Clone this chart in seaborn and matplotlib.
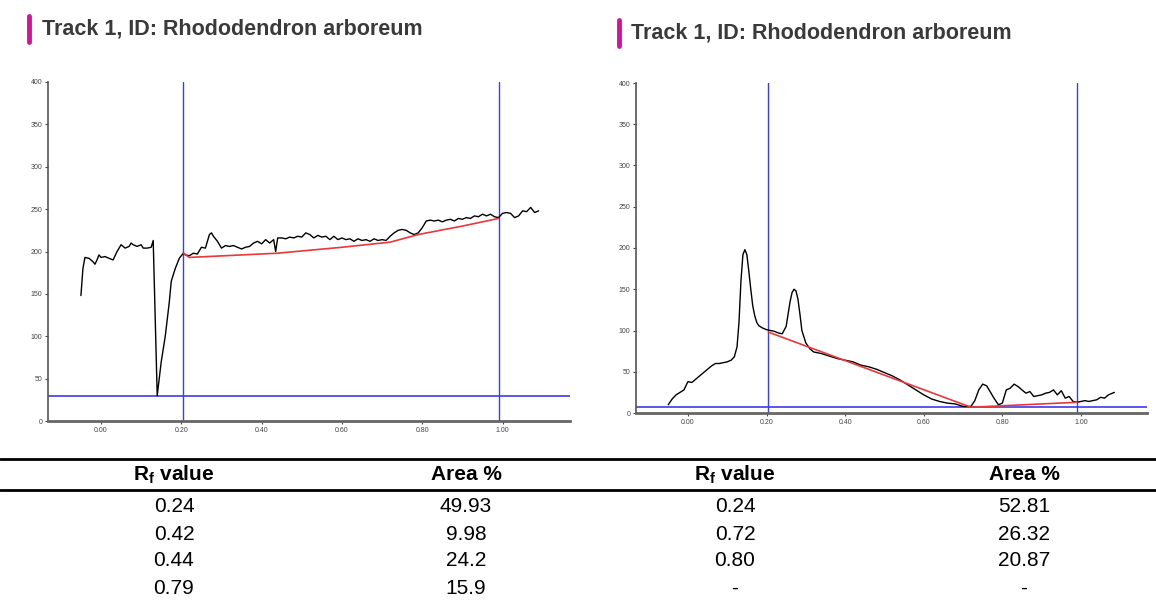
import numpy as np
import pandas as pd
import matplotlib
matplotlib.use("Agg")
import matplotlib.pyplot as plt
import seaborn as sns

# densitogram, left track
rf_left = [-0.05, -0.045, -0.04, -0.03, -0.02, -0.015, -0.01, -0.005, 0.00, 0.01,
           0.02, 0.03, 0.04, 0.05, 0.06, 0.07, 0.075, 0.08, 0.09, 0.10,
           0.105, 0.115, 0.125, 0.13, 0.14, 0.15, 0.16, 0.17, 0.175, 0.185,
           0.195, 0.205, 0.21, 0.22, 0.23, 0.24, 0.25, 0.26, 0.27, 0.275,
           0.28, 0.29, 0.30, 0.31, 0.32, 0.33, 0.34, 0.35, 0.36, 0.37,
           0.38, 0.39, 0.40, 0.41, 0.42, 0.43, 0.435, 0.44, 0.45, 0.46,
           0.47, 0.48, 0.49, 0.50, 0.51, 0.52, 0.53, 0.54, 0.55, 0.56,
           0.57, 0.58, 0.59, 0.60, 0.61, 0.62, 0.63, 0.64, 0.65, 0.66,
           0.67, 0.68, 0.69, 0.70, 0.71, 0.72, 0.73, 0.74, 0.75, 0.76,
           0.77, 0.78, 0.79, 0.80, 0.81, 0.82, 0.83, 0.84, 0.85, 0.86,
           0.87, 0.88, 0.89, 0.90, 0.91, 0.92, 0.93, 0.94, 0.95, 0.96,
           0.97, 0.98, 0.99, 1.00, 1.01, 1.02, 1.03, 1.04, 1.05, 1.06,
           1.07, 1.08, 1.09]
int_left = [148, 180, 193, 192, 188, 185, 190, 196, 193, 194,
            192, 190, 200, 208, 204, 206, 210, 208, 206, 208,
            204, 204, 205, 213, 30, 70, 100, 140, 165, 180,
            192, 198, 196, 195, 198, 197, 205, 204, 220, 222,
            218, 212, 204, 207, 206, 207, 205, 203, 205, 206,
            210, 212, 209, 214, 210, 214, 200, 216, 216, 215,
            217, 216, 218, 217, 222, 220, 216, 219, 217, 218,
            214, 218, 214, 216, 214, 215, 212, 215, 213, 214,
            212, 215, 213, 214, 213, 218, 222, 225, 226, 225,
            222, 220, 222, 228, 236, 237, 236, 237, 235, 237,
            238, 236, 239, 238, 240, 239, 242, 241, 244, 242,
            244, 241, 240, 245, 246, 245, 240, 242, 248, 247,
            252, 246, 248]
base_rf_left = [0.205, 0.22, 0.44, 0.60, 0.72, 0.79, 0.90, 0.99]
base_int_left = [198, 193, 198, 205, 211, 220, 230, 239]
start_left, end_left, level_left = 0.205, 0.99, 30

# densitogram, right track
rf_right = [-0.05, -0.04, -0.03, -0.02, -0.01, 0.00, 0.01, 0.02, 0.03, 0.04,
            0.05, 0.06, 0.07, 0.08, 0.09, 0.10, 0.11, 0.118, 0.125, 0.13,
            0.135, 0.14, 0.145, 0.15, 0.155, 0.16, 0.165, 0.17, 0.175, 0.18,
            0.19, 0.20, 0.21, 0.22, 0.23, 0.24, 0.25, 0.255, 0.26, 0.265,
            0.27, 0.275, 0.28, 0.285, 0.29, 0.30, 0.31, 0.32, 0.34, 0.36,
            0.38, 0.40, 0.42, 0.44, 0.46, 0.48, 0.50, 0.52, 0.54, 0.56,
            0.58, 0.60, 0.62, 0.64, 0.66, 0.68, 0.70, 0.72, 0.73, 0.74,
            0.75, 0.76, 0.77, 0.78, 0.79, 0.80, 0.81, 0.82, 0.83, 0.84,
            0.85, 0.86, 0.87, 0.88, 0.89, 0.90, 0.91, 0.92, 0.93, 0.94,
            0.95, 0.96, 0.97, 0.98, 0.99, 1.00, 1.01, 1.02, 1.03, 1.04,
            1.05, 1.06, 1.07, 1.085]
int_right = [10, 17, 22, 25, 28, 38, 37, 41, 45, 49,
             53, 57, 60, 60, 61, 62, 64, 68, 80, 110,
             160, 192, 198, 192, 172, 150, 130, 118, 110, 106,
             103, 101, 100, 99, 97, 96, 105, 120, 135, 146,
             150, 148, 138, 120, 100, 85, 78, 74, 72, 69,
             66, 64, 62, 58, 56, 53, 49, 45, 40, 34,
             28, 22, 17, 14, 12, 11, 8, 8, 15, 28,
             35, 33, 25, 17, 10, 12, 28, 30, 35, 32,
             28, 24, 26, 20, 21, 22, 24, 25, 28, 22,
             27, 18, 20, 14, 13, 14, 15, 14, 15, 16,
             19, 18, 22, 25]
base_rf_right = [0.205, 0.72, 0.99]
base_int_right = [98, 7, 13]
start_right, end_right, level_right = 0.205, 0.99, 7

# peak table
rf_col1 = ["0.24", "0.42", "0.44", "0.79"]
area_col1 = ["49.93", "9.98", "24.2", "15.9"]
rf_col2 = ["0.24", "0.72", "0.80", "-"]
area_col2 = ["52.81", "26.32", "20.87", "-"]

title = "Track 1, ID: Rhododendron arboreum"

sns.set_style("ticks")
plt.rcParams["font.family"] = ["Liberation Sans", "DejaVu Sans"]
plt.rcParams["mathtext.fontset"] = "custom"
plt.rcParams["mathtext.rm"] = "Liberation Sans"
plt.rcParams["mathtext.bf"] = "Liberation Sans:bold"

fig = plt.figure(figsize=(11.56, 6.09), dpi=100)

blue = "#3b3bf0"
red = "#e8383a"


def track(ax, rf, inten, brf, bint, x0, x1, level):
    df = pd.DataFrame({"rf": rf, "intensity": inten})
    sns.lineplot(data=df, x="rf", y="intensity", ax=ax, color="black",
                 linewidth=1.0, sort=False, zorder=3)
    bdf = pd.DataFrame({"rf": brf, "intensity": bint})
    sns.lineplot(data=bdf, x="rf", y="intensity", ax=ax, color=red,
                 linewidth=1.2, sort=False, zorder=4)
    ax.axvline(x0, color=blue, linewidth=1.0, zorder=2)
    ax.axvline(x1, color=blue, linewidth=1.0, zorder=2)
    ax.axhline(level, color=blue, linewidth=1.2, zorder=2)
    ax.set_xlim(-0.132, 1.168)
    ax.set_ylim(0, 400)
    ax.set_xticks([0.0, 0.2, 0.4, 0.6, 0.8, 1.0])
    ax.set_xticklabels(["0.00", "0.20", "0.40", "0.60", "0.80", "1.00"])
    ax.set_yticks(range(0, 401, 50))
    ax.tick_params(labelsize=5, colors="#444444", length=2, width=0.8, pad=2)
    ax.set_xlabel("")
    ax.set_ylabel("")
    for s in ["top", "right"]:
        ax.spines[s].set_visible(False)
    ax.spines["left"].set_color("#555555")
    ax.spines["left"].set_linewidth(1.2)
    ax.spines["bottom"].set_color("#666666")
    ax.spines["bottom"].set_linewidth(2.0)


ax1 = fig.add_axes([48 / 1156, 1 - 421 / 609, 522 / 1156, 339 / 609])
track(ax1, rf_left, int_left, base_rf_left, base_int_left,
      start_left, end_left, level_left)
ax2 = fig.add_axes([636 / 1156, 1 - 413 / 609, 511 / 1156, 330 / 609])
track(ax2, rf_right, int_right, base_rf_right, base_int_right,
      start_right, end_right, level_right)

# titles with magenta marker
for bx, tx, ty in [(29, 42, 29), (619, 631, 33)]:
    fig.add_artist(plt.Line2D([bx / 1156, bx / 1156],
                              [1 - (ty - 13) / 609, 1 - (ty + 13) / 609],
                              color="#d4139c", linewidth=3.5,
                              solid_capstyle="round"))
    fig.text(tx / 1156, 1 - ty / 609, title, fontsize=15.5, fontweight="bold",
             color="#3a3a3a", va="center", ha="left")

# table
fig.add_artist(plt.Line2D([0, 1], [1 - 459 / 609] * 2, color="black", linewidth=2.0))
fig.add_artist(plt.Line2D([0, 1], [1 - 490 / 609] * 2, color="black", linewidth=2.0))
col_x = [174, 466, 735, 1024]
headers = [r"R$_\mathbf{f}$ value", "Area %", r"R$_\mathbf{f}$ value", "Area %"]
for cx, h in zip(col_x, headers):
    fig.text(cx / 1156, 1 - 475 / 609, h, fontsize=15, fontweight="bold",
             ha="center", va="center", color="black")
row_y = [507, 534, 561, 588]
for cx, col in zip(col_x, [rf_col1, area_col1, rf_col2, area_col2]):
    for ry, v in zip(row_y, col):
        fig.text(cx / 1156, 1 - ry / 609, v, fontsize=15, ha="center",
                 va="center", color="black")

fig.savefig("out.png", dpi=100)
